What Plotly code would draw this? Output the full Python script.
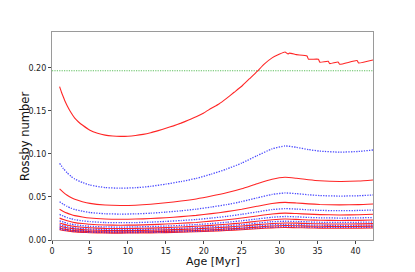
import plotly.graph_objects as go

# Top (fastest-rotating) track
ages_top = [1, 1.25, 1.5, 1.75, 2, 2.5, 3, 3.5, 4, 5, 6, 7, 8, 9, 10, 11, 12, 13, 14, 15, 16, 17, 18, 19, 20,
            21, 22, 23, 24, 25, 26, 27, 28, 29, 30, 30.7, 31.1, 31.3, 32.2, 33.6, 33.8, 35.1,
            35.3, 36.4, 36.6, 37.7, 37.9, 40.2, 40.4, 42.3]
ro_top = [0.178, 0.1715, 0.166, 0.1605, 0.156, 0.148, 0.1415, 0.137, 0.1335, 0.1275, 0.1240, 0.1218, 0.1207, 0.1203,
          0.1205, 0.1213, 0.1226, 0.1245, 0.1270, 0.1297, 0.1325, 0.1357, 0.1392, 0.1430, 0.1475,
          0.1530, 0.1580, 0.1645, 0.1715, 0.1785, 0.1870, 0.1955, 0.2045, 0.2115, 0.2160, 0.2183,
          0.2160, 0.2170, 0.2152, 0.2137, 0.2099, 0.2099, 0.2064, 0.2075, 0.2048, 0.2067, 0.2040,
          0.2083, 0.2055, 0.2090]

# Common age grid for the remaining tracks
ages = [1, 1.5, 2, 2.5, 3, 4, 5, 7, 9, 11, 13, 15, 17, 19, 21, 23, 25, 27, 29, 30.7, 32.2,
        33.8, 35.3, 37.9, 40.4, 42.3]

ro_2 = [0.089, 0.083, 0.078, 0.074, 0.0708, 0.0668, 0.0638, 0.0609, 0.0602, 0.0607, 0.0623, 0.0649, 0.0679,
        0.0715, 0.0765, 0.0823, 0.0893, 0.0978, 0.1058, 0.1092, 0.1076, 0.1050, 0.1032, 0.1020, 0.1028, 0.1045]
ro_3 = [0.0593, 0.0553, 0.0520, 0.0493, 0.0472, 0.0445, 0.0425, 0.0406, 0.0401, 0.0404, 0.0415, 0.0432, 0.0452,
        0.0477, 0.0510, 0.0548, 0.0595, 0.0652, 0.0705, 0.0728, 0.0717, 0.0700, 0.0688, 0.0680, 0.0685, 0.0697]
ro_4 = [0.0445, 0.0415, 0.0390, 0.0370, 0.0354, 0.0334, 0.0319, 0.0305, 0.0301, 0.0303, 0.0311, 0.0324, 0.0339,
        0.0358, 0.0383, 0.0411, 0.0446, 0.0489, 0.0529, 0.0546, 0.0538, 0.0525, 0.0516, 0.0510, 0.0514, 0.0523]
ro_5 = [0.0356, 0.0332, 0.0312, 0.0296, 0.0283, 0.0267, 0.0255, 0.0244, 0.0241, 0.0243, 0.0249, 0.0259, 0.0271,
        0.0286, 0.0306, 0.0329, 0.0357, 0.0391, 0.0423, 0.0437, 0.0430, 0.0420, 0.0413, 0.0408, 0.0411, 0.0418]
ro_6 = [0.0297, 0.0277, 0.0260, 0.0247, 0.0236, 0.0223, 0.0213, 0.0203, 0.0201, 0.0202, 0.0208, 0.0216, 0.0226,
        0.0238, 0.0255, 0.0274, 0.0298, 0.0326, 0.0353, 0.0364, 0.0359, 0.0350, 0.0344, 0.0340, 0.0343, 0.0348]
ro_7 = [0.0254, 0.0237, 0.0223, 0.0211, 0.0202, 0.0191, 0.0182, 0.0174, 0.0172, 0.0173, 0.0178, 0.0185, 0.0194,
        0.0204, 0.0219, 0.0235, 0.0255, 0.0279, 0.0302, 0.0312, 0.0307, 0.0300, 0.0295, 0.0291, 0.0294, 0.0299]
ro_8 = [0.0223, 0.0208, 0.0195, 0.0185, 0.0177, 0.0167, 0.0159, 0.0152, 0.0150, 0.0152, 0.0156, 0.0162, 0.0170,
        0.0179, 0.0191, 0.0206, 0.0223, 0.0244, 0.0264, 0.0273, 0.0269, 0.0262, 0.0258, 0.0255, 0.0257, 0.0261]
ro_9 = [0.0198, 0.0184, 0.0173, 0.0164, 0.0157, 0.0148, 0.0142, 0.0135, 0.0134, 0.0135, 0.0138, 0.0144, 0.0151,
        0.0159, 0.0170, 0.0183, 0.0198, 0.0217, 0.0235, 0.0243, 0.0239, 0.0233, 0.0229, 0.0227, 0.0228, 0.0232]
ro_10 = [0.0178, 0.0166, 0.0156, 0.0148, 0.0142, 0.0134, 0.0128, 0.0122, 0.0120, 0.0121, 0.0125, 0.0130, 0.0136,
         0.0143, 0.0153, 0.0165, 0.0179, 0.0196, 0.0212, 0.0218, 0.0215, 0.0210, 0.0206, 0.0204, 0.0206, 0.0209]
ro_11 = [0.0162, 0.0151, 0.0142, 0.0135, 0.0129, 0.0121, 0.0116, 0.0111, 0.0109, 0.0110, 0.0113, 0.0118, 0.0123,
         0.0130, 0.0139, 0.0150, 0.0162, 0.0178, 0.0192, 0.0198, 0.0196, 0.0191, 0.0188, 0.0185, 0.0187, 0.0190]
ro_12 = [0.0148, 0.0138, 0.0130, 0.0123, 0.0118, 0.0111, 0.0106, 0.0102, 0.0100, 0.0101, 0.0104, 0.0108, 0.0113,
         0.0119, 0.0128, 0.0137, 0.0149, 0.0163, 0.0176, 0.0182, 0.0179, 0.0175, 0.0172, 0.0170, 0.0171, 0.0174]
ro_13 = [0.0137, 0.0128, 0.0120, 0.0114, 0.0109, 0.0103, 0.0098, 0.0094, 0.0093, 0.0093, 0.0096, 0.0100, 0.0104,
         0.0110, 0.0118, 0.0127, 0.0137, 0.0150, 0.0163, 0.0168, 0.0166, 0.0161, 0.0159, 0.0157, 0.0158, 0.0161]
ro_14 = [0.0127, 0.0119, 0.0111, 0.0106, 0.0101, 0.0095, 0.0091, 0.0087, 0.0086, 0.0087, 0.0089, 0.0093, 0.0097,
         0.0102, 0.0109, 0.0118, 0.0128, 0.0140, 0.0151, 0.0156, 0.0154, 0.0150, 0.0147, 0.0146, 0.0147, 0.0149]
ro_15 = [0.0119, 0.0111, 0.0104, 0.0099, 0.0094, 0.0089, 0.0085, 0.0081, 0.0080, 0.0081, 0.0083, 0.0086, 0.0090,
         0.0095, 0.0102, 0.0110, 0.0119, 0.0130, 0.0141, 0.0146, 0.0143, 0.0140, 0.0138, 0.0136, 0.0137, 0.0139]

ro_threshold = 0.1965
x_range = [0, 42.3]
y_range = [0, 0.2415]
x_ticks = [0, 5, 10, 15, 20, 25, 30, 35, 40]
y_ticks = [0.00, 0.05, 0.10, 0.15, 0.20]

lower_tracks = [ro_2, ro_3, ro_4, ro_5, ro_6, ro_7, ro_8, ro_9, ro_10, ro_11, ro_12, ro_13, ro_14, ro_15]

fig = go.Figure()

fig.add_trace(go.Scatter(x=x_range, y=[ro_threshold, ro_threshold], mode="lines",
                         line=dict(color="rgb(40,170,40)", width=1.1, dash="1.2px,1.2px"),
                         opacity=0.75, showlegend=False, hoverinfo="skip"))

# draw from bottom to top so that upper tracks overlap lower ones
for i in range(len(lower_tracks) - 1, -1, -1):
    vals = lower_tracks[i]
    n = i + 2
    if n % 2 == 0:
        line = dict(color="rgb(30,30,255)", width=1.3, dash="1.3px,1.3px", shape="spline", smoothing=0.5)
        op = 0.8
    else:
        line = dict(color="rgb(255,0,0)", width=1.1, shape="spline", smoothing=0.5)
        op = 0.85
    fig.add_trace(go.Scatter(x=ages, y=vals, mode="lines", line=line, opacity=op,
                             showlegend=False, hoverinfo="skip"))

fig.add_trace(go.Scatter(x=ages_top, y=ro_top, mode="lines",
                         line=dict(color="rgb(255,0,0)", width=1.1, shape="spline", smoothing=0.4),
                         opacity=0.85, showlegend=False, hoverinfo="skip"))

axis_common = dict(showline=True, mirror=True, linecolor="#9a9a9a", linewidth=1.2,
                   ticks="outside", ticklen=3, tickcolor="#444", tickwidth=1,
                   showgrid=False, zeroline=False,
                   tickfont=dict(family="DejaVu Sans", size=8, color="#222"))

# The page body adds an 8px offset; the figure size/margins compensate so that
# the plot area lands at x 52..373, y 32..240 in the 415x272 window.
fig_w, fig_h = 407, 264
m_l, m_t = 44, 24
plot_w, plot_h = 321, 208
m_r = fig_w - m_l - plot_w
m_b = fig_h - m_t - plot_h

fig.update_layout(
    width=fig_w, height=fig_h,
    margin=dict(l=m_l, r=m_r, t=m_t, b=m_b, autoexpand=False),
    paper_bgcolor="white", plot_bgcolor="white",
    xaxis=dict(range=x_range, tickvals=x_ticks, ticktext=[str(v) for v in x_ticks], **axis_common),
    yaxis=dict(range=y_range, tickvals=y_ticks, ticktext=[f"{v:.2f}" for v in y_ticks], **axis_common),
    annotations=[
        dict(text="Age [Myr]", x=(212.5 - 52) / plot_w, y=(240 - 261) / plot_h,
             xref="paper", yref="paper", showarrow=False, borderpad=0,
             font=dict(family="DejaVu Sans", size=11, color="#111"), xanchor="center", yanchor="middle"),
        dict(text="Rossby number", x=(25 - 52) / plot_w, y=(240 - 137) / plot_h,
             xref="paper", yref="paper", showarrow=False, textangle=-90, borderpad=0,
             font=dict(family="DejaVu Sans", size=11.5, color="#111"), xanchor="center", yanchor="middle"),
    ],
)

fig.write_html("out.html")
